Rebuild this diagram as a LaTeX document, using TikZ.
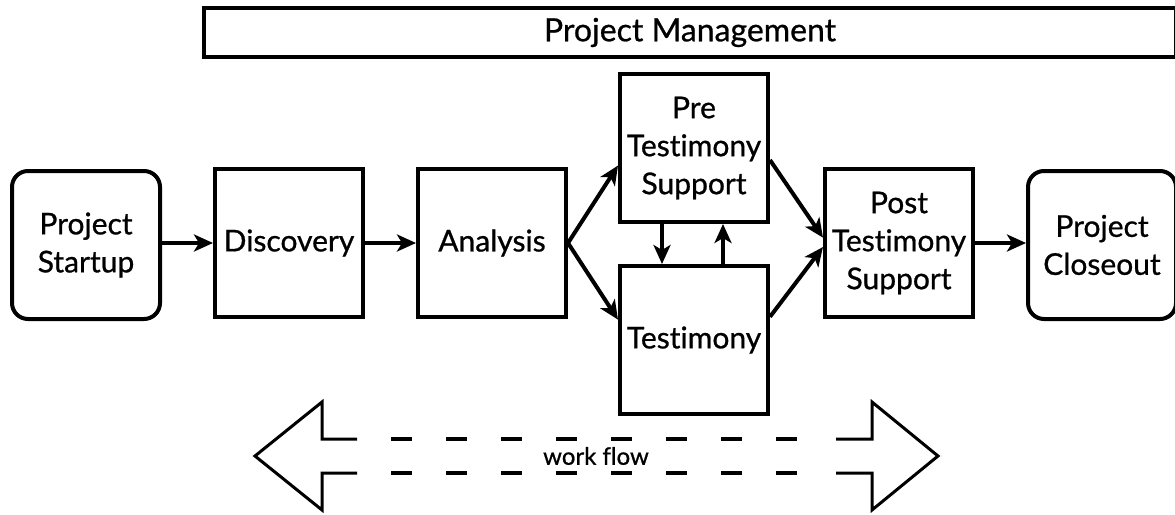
\documentclass[tikz,border=0pt]{standalone}
\usepackage{fontspec}
\setmainfont{Lato}[Ligatures=NoCommon]
\newfontfamily\boxfont{Lato}[FakeBold=0.8,Ligatures=NoCommon]
\usetikzlibrary{arrows.meta}

\begin{document}
\begin{tikzpicture}[x=1pt,y=-1pt,
		box/.style={draw,line width=4pt,minimum width=148pt,minimum height=148pt,inner sep=0pt,align=center,font=\boxfont\fontsize{30}{38}\selectfont},
		endbox/.style={box,rounded corners=16pt},
		flow/.style={line width=4pt,-{Stealth[length=19pt,width=17pt,inset=5pt]}},
		outline/.style={line width=3pt,line join=miter}]
		\useasboundingbox (0,0) rectangle (1175,514);
		\node[draw,line width=4pt,minimum width=972pt,minimum height=49pt,inner sep=0pt,font=\boxfont\fontsize{32}{36}\selectfont] (pm) at (690,32.5) {Project Management};
		% main row
		\node[endbox] (start) at (86,245) {Project\\Startup};
		\node[box] (disc) at (289,243) {Discovery};
		\node[box] (anal) at (492,243) {Analysis};
		\node[box] (pre) at (694,148) {Pre\\Testimony\\Support};
		\node[box] (test) at (694,340) {Testimony};
		\node[box] (post) at (899,243) {Post\\Testimony\\Support};
		\node[endbox] (close) at (1102,245) {Project\\Closeout};
		\foreach \a/\b in {start/disc,disc/anal,post/close}
			\draw[flow] (\a.east|-disc.east) -- (\b.west|-disc.west);
		\draw[flow] (anal.east) -- (pre.193);
		\draw[flow] (anal.east) -- (test.165);
		\draw[flow] (pre.-9) -- (post.176);
		\draw[flow] (test.17) -- (post.183);
		\draw[flow] ([xshift=-32pt]pre.south) -- ([xshift=-32pt]test.north);
		\draw[flow] ([xshift=29pt]test.north) -- ([xshift=29pt]pre.south);
		% work flow arrow
		\draw[outline] (357,439) -- (322,439) -- (322,402) -- (255,456) -- (322,510) -- (322,473) -- (357,473);
		\draw[outline] (836,439) -- (872,439) -- (872,402) -- (938,456) -- (872,510) -- (872,473) -- (836,473);
		\foreach \y in {439,473}
			\draw[line width=4pt,dash pattern=on 21pt off 34pt] (391,\y) -- (813,\y);
		\node[font=\boxfont\fontsize{24}{28}\selectfont] (wf) at (596,456) {work flow};
	\end{tikzpicture}
\end{document}
